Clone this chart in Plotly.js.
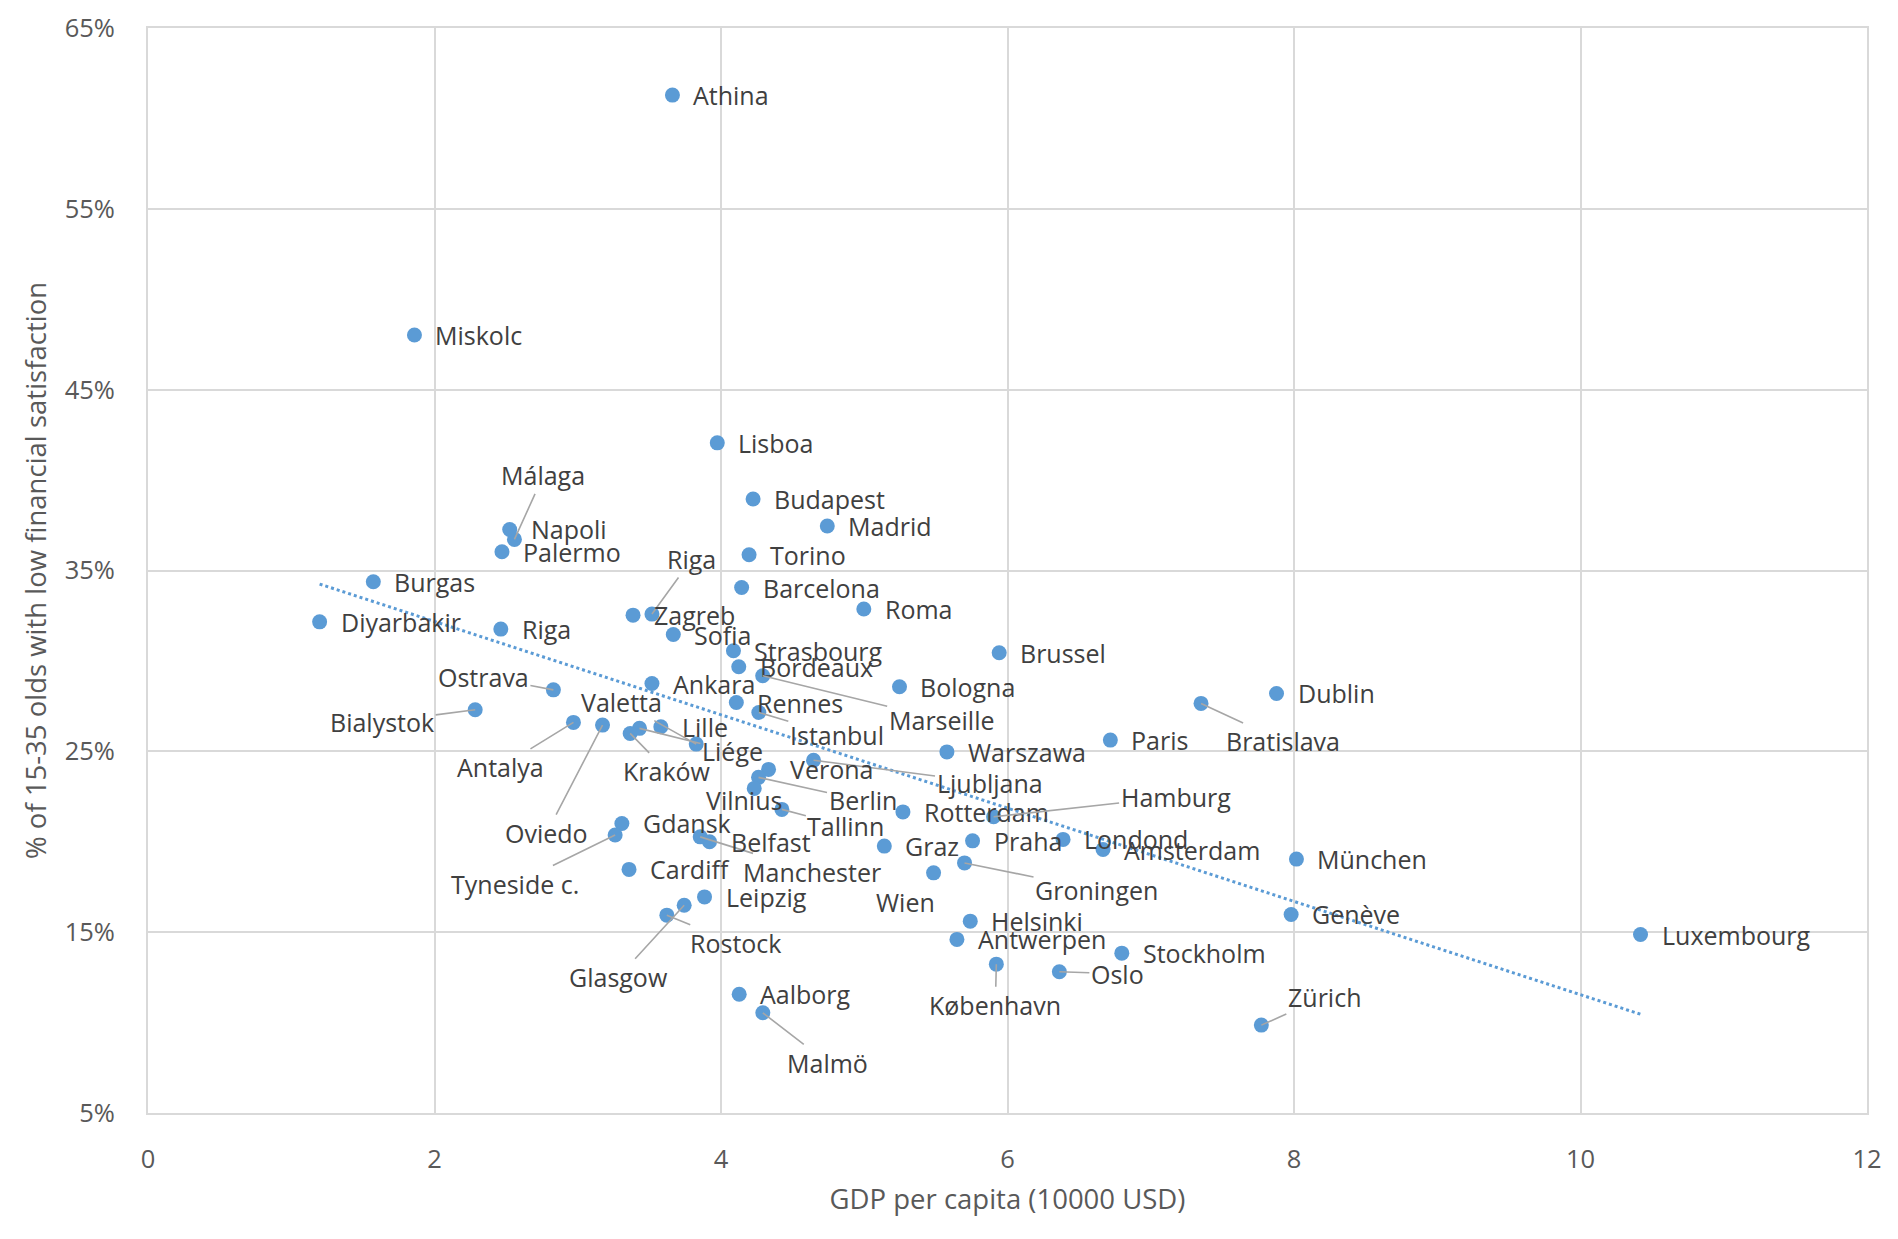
<!DOCTYPE html>
<html>
<head>
<meta charset="utf-8">
<script src="https://cdn.plot.ly/plotly-3.0.1.min.js"></script>
<style>
  body { margin: 0; background: #fff; }
  #graph { width: 1898px; height: 1239px; }
</style>
</head>
<body>
<div id="graph"></div>
<script>
// Cities, GDP per capita (10000 USD) and share (%) of 15-35 olds with low financial satisfaction
var cities = ['Athina', 'Miskolc', 'Lisboa', 'Budapest', 'Madrid', 'Málaga', 'Napoli', 'Palermo',
    'Torino', 'Burgas', 'Barcelona', 'Roma', 'Riga', 'Zagreb', 'Diyarbakir', 'Riga', 'Sofia',
    'Strasbourg', 'Brussel', 'Bordeaux', 'Marseille', 'Ankara', 'Bologna', 'Ostrava', 'Dublin',
    'Rennes', 'Bratislava', 'Bialystok', 'Istanbul', 'Antalya', 'Oviedo', 'Lille', 'Liége',
    'Kraków', 'Paris', 'Valetta', 'Warszawa', 'Ljubljana', 'Verona', 'Berlin', 'Vilnius',
    'Tallinn', 'Rotterdam', 'Hamburg', 'Gdansk', 'Tyneside c.', 'Manchester', 'Londond', 'Praha',
    'Belfast', 'Graz', 'Amsterdam', 'München', 'Groningen', 'Cardiff', 'Wien', 'Leipzig',
    'Glasgow', 'Genève', 'Rostock', 'Helsinki', 'Luxembourg', 'Antwerpen', 'Stockholm',
    'København', 'Oslo', 'Aalborg', 'Malmö', 'Zürich'];

var gdp = [3.661, 1.860, 3.974, 4.224, 4.742, 2.558, 2.525, 2.471,
    4.196, 1.573, 4.144, 4.997, 3.518, 3.386, 1.198, 2.463, 3.667,
    4.087, 5.942, 4.124, 4.291, 3.518, 5.246, 2.830, 7.878,
    4.107, 7.351, 2.284, 4.264, 2.970, 3.173, 3.580, 3.431,
    3.366, 6.718, 3.827, 5.577, 4.646, 4.332, 4.262, 4.232,
    4.425, 5.270, 5.903, 3.308, 3.261, 3.855, 6.388, 5.756,
    3.920, 5.140, 6.667, 8.017, 5.700, 3.358, 5.484, 3.885,
    3.743, 7.980, 3.622, 5.740, 10.419, 5.647, 6.798,
    5.922, 6.362, 4.127, 4.292, 7.772];

var share = [61.29, 48.02, 42.06, 38.95, 37.46, 36.72, 37.27, 36.04,
    35.87, 34.38, 34.06, 32.87, 32.59, 32.53, 32.16, 31.76, 31.46,
    30.56, 30.45, 29.68, 29.18, 28.75, 28.57, 28.40, 28.20,
    27.70, 27.65, 27.30, 27.15, 26.60, 26.45, 26.36, 26.27,
    25.99, 25.62, 25.40, 24.97, 24.51, 24.00, 23.56, 22.95,
    21.79, 21.65, 21.38, 21.01, 20.37, 20.27, 20.13, 20.05,
    20.00, 19.76, 19.57, 19.04, 18.83, 18.47, 18.28, 16.95,
    16.49, 15.98, 15.94, 15.61, 14.87, 14.60, 13.84,
    13.23, 12.81, 11.57, 10.54, 9.86];

// Linear trendline end points
var trendX = [1.198, 10.419];
var trendY = [34.25, 10.46];

// Label placement (pixel offset of label centre from its point)
var leaders = {
    'Málaga': [29, -64], 'Riga': [40, -55], 'Marseille': [179, 44], 'Ostrava': [-70, -13],
    'Bialystok': [-93, 12], 'Bratislava': [82, 38], 'Istanbul': [78, 23], 'Antalya': [-73, 45],
    'Oviedo': [-56, 108], 'Liége': [93, 23], 'Kraków': [37, 38], 'Valetta': [-75, -42],
    'Ljubljana': [176, 23], 'Berlin': [104, 23], 'Tallinn': [64, 17], 'Hamburg': [182, -20],
    'Tyneside c.': [-100, 49], 'Manchester': [112, 35], 'Groningen': [132, 27],
    'Glasgow': [-66, 72], 'Rostock': [69, 28], 'København': [-1, 41], 'Oslo': [58, 2],
    'Malmö': [65, 50], 'Zürich': [63, -28]
};
var placed = { 'Vilnius': [-10, 12], 'Wien': [-28, 29] };

var labelFont = {family: 'Open Sans, sans-serif', size: 25, color: '#404040'};
var tickFont = {family: 'Open Sans, sans-serif', size: 25.5, color: '#595959'};
var titleFont = {family: 'Open Sans, sans-serif', size: 27.5, color: '#595959'};

var annotations = [];
var seen = {};
for (var i = 0; i < cities.length; i++) {
    var name = cities[i];
    var key = seen[name] ? name + '#2' : name;
    seen[name] = true;
    var a = {x: gdp[i], y: share[i], xref: 'x', yref: 'y', text: name, font: labelFont};
    if (leaders[key]) {
        a.showarrow = true;
        a.arrowhead = 0;
        a.arrowwidth = 1.6;
        a.arrowcolor = '#a6a6a6';
        a.standoff = 0;
        a.ax = leaders[key][0];
        a.ay = leaders[key][1];
    } else if (placed[key]) {
        a.showarrow = false;
        a.xshift = placed[key][0];
        a.yshift = -placed[key][1];
    } else {
        a.showarrow = false;
        a.xanchor = 'left';
        a.xshift = 19;
    }
    annotations.push(a);
}

var trend = {
    x: trendX,
    y: trendY,
    mode: 'lines',
    type: 'scatter',
    hoverinfo: 'skip',
    line: {color: '#5b9bd5', width: 3, dash: 'dot'}
};

var points = {
    x: gdp,
    y: share,
    text: cities,
    mode: 'markers',
    type: 'scatter',
    marker: {color: '#5b9bd5', size: 15}
};

var layout = {
    width: 1898,
    height: 1239,
    paper_bgcolor: '#fff',
    plot_bgcolor: '#fff',
    showlegend: false,
    margin: {l: 148, r: 31, t: 28, b: 126},
    xaxis: {
        range: [0, 12],
        tick0: 0,
        dtick: 2,
        showgrid: true,
        gridcolor: '#d9d9d9',
        gridwidth: 2,
        zeroline: false,
        showline: true,
        mirror: true,
        linecolor: '#d9d9d9',
        linewidth: 2,
        ticks: '',
        ticklabelstandoff: 22,
        tickfont: tickFont,
        title: {text: 'GDP per capita (10000 USD)', font: titleFont, standoff: 16}
    },
    yaxis: {
        range: [5, 65],
        tick0: 5,
        dtick: 10,
        ticksuffix: '%',
        showgrid: true,
        gridcolor: '#d9d9d9',
        gridwidth: 2,
        zeroline: false,
        showline: true,
        mirror: true,
        linecolor: '#d9d9d9',
        linewidth: 2,
        ticks: '',
        ticklabelstandoff: 26,
        tickfont: tickFont,
        title: {text: '% of 15-35 olds with low financial satisfaction', font: titleFont, standoff: 10}
    },
    annotations: annotations
};

Plotly.newPlot('graph', [trend, points], layout, {displayModeBar: false, staticPlot: true});
</script>
</body>
</html>
